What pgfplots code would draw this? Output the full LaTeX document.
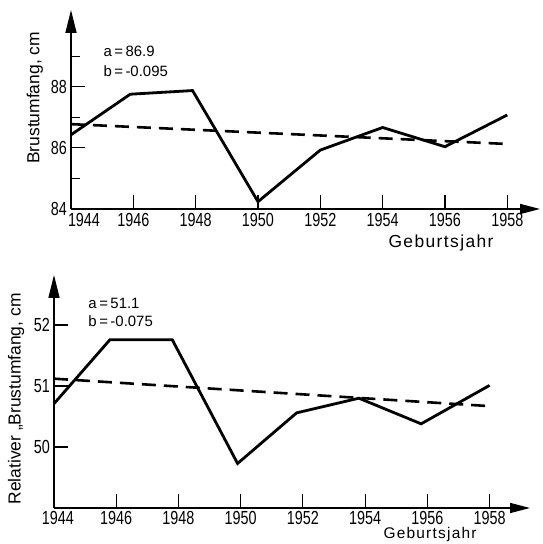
\documentclass[border=0pt]{standalone}
\usepackage{pgfplots}
\pgfplotsset{compat=1.18}
\usetikzlibrary{arrows.meta}
\usepackage{fontspec}
\setmainfont{Liberation Sans}
\newfontfamily\numfont{Liberation Sans}[FakeStretch=0.76]
\newfontfamily\xlblfont{Liberation Sans}[LetterSpace=8]

\tikzset{ann/.style={anchor=base west, font=\fontsize{15}{16}\selectfont}}
\pgfplotsset{
  myax/.style={
    scale only axis, axis lines=left,
    axis line style={line width=1.5bp, black},
    x axis line style={-{Triangle[length=20bp,width=10bp]}},
    y axis line style={-{Triangle[length=23bp,width=11bp]}},
    tick align=inside, major tick length=14bp, minor tick length=9bp,
    every tick/.style={line width=1.1bp, black},
    /pgf/number format/assume math mode=true,
    /pgf/number format/1000 sep={},
    ticklabel style={font=\numfont\fontsize{19}{20}\selectfont},
    xticklabel style={anchor=north, inner sep=0pt, yshift=-4bp},
    yticklabel style={anchor=east, inner sep=0pt, xshift=-4bp},
    xmin=1944,
    every axis y label/.style={rotate=90, anchor=center, font=\fontsize{17.5}{20}\selectfont},
    every axis x label/.style={anchor=base, font=\xlblfont\fontsize{17.5}{20}\selectfont},
    clip=false,
  },
}

\begin{document}
\begin{tikzpicture}[x=1bp,y=1bp]
\useasboundingbox (0,0) rectangle (543,544);

% ---------- top panel ----------
\begin{axis}[myax,
  at={(71bp,335bp)}, anchor=south west,
  width=469bp, height=199bp,
  xmax=1959.05, ymin=84, ymax=90.52,
  xtick={1946,1948,...,1958},
  extra x ticks={1944},
  extra x tick style={xticklabel style={xshift=13bp}},
  ytick={84,86,88},
  minor ytick={85,87,89},
  xlabel={Geburtsjahr},
  ylabel={Brustumfang, cm},
  xlabel style={at={(axis description cs:0.789,-0.196)}},
  ylabel style={at={(axis description cs:-0.0768,0.558)}},
]
\addplot[line width=2.8bp, black] coordinates {
  (1944,86.43) (1945.9,87.76) (1947.9,87.88) (1950,84.24)
  (1952,85.93) (1954,86.67) (1956,86.04) (1958,87.08)};
\addplot[line width=2.6bp, black, dash pattern=on 14bp off 8bp] coordinates {
  (1944,86.78) (1958,86.13)};
\node[ann] at (axis description cs:0.0618,0.764) {a\,=\,86.9};
\node[ann] at (axis description cs:0.0618,0.668) {b\,=\,-0.095};
\end{axis}

% ---------- bottom panel ----------
\begin{axis}[myax,
  at={(54bp,36bp)}, anchor=south west,
  width=476bp, height=233bp,
  xmax=1959.3, ymin=49, ymax=52.82,
  xtick={1946,1948,...,1958},
  extra x ticks={1944},
  extra x tick style={xticklabel style={xshift=4bp}},
  xticklabel style={yshift=1bp},
  ytick={50,51,52},
  xlabel={Geburtsjahr},
  ylabel={Relativer „Brustumfang, cm},
  xlabel style={at={(axis description cs:0.79,-0.133)}, font=\xlblfont\fontsize{15.5}{17}\selectfont},
  ylabel style={at={(axis description cs:-0.0798,0.468)}},
]
\addplot[line width=2.8bp, black] coordinates {
  (1944,50.71) (1945.8,51.76) (1947.8,51.76) (1949.9,49.73)
  (1951.8,50.56) (1953.8,50.80) (1955.8,50.38) (1958,51.01)};
\addplot[line width=2.6bp, black, dash pattern=on 14bp off 8bp] coordinates {
  (1944,51.12) (1958,50.67)};
\node[ann] at (axis description cs:0.065,0.858) {a\,=\,51.1};
\node[ann] at (axis description cs:0.065,0.777) {b\,=\,-0.075};
\end{axis}
\end{tikzpicture}
\end{document}
